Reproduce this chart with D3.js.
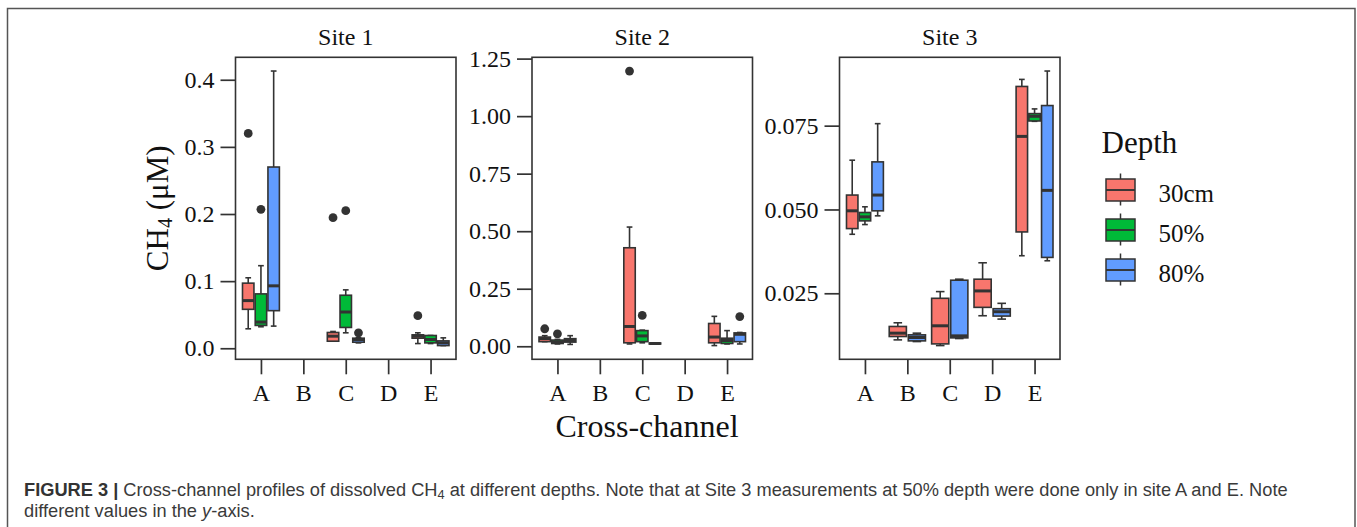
<!DOCTYPE html>
<html>
<head>
<meta charset="utf-8">
<script src="https://cdn.jsdelivr.net/npm/d3@7/dist/d3.min.js"></script>
<style>
  html, body { margin: 0; padding: 0; background: #fff; }
  svg { display: block; }
</style>
</head>
<body>
<svg id="fig" width="1357" height="527"></svg>
<script>
var sites = ['Site 1', 'Site 2', 'Site 3'];
var channels = ['A', 'B', 'C', 'D', 'E'];
var depths = ['30cm', '50%', '80%'];

// channel, depth, lower whisker, q1, median, q3, upper whisker
var site1Boxes = [
  ['A', '30cm', 0.029, 0.058, 0.071, 0.097, 0.105],
  ['A', '50%', 0.032, 0.034, 0.039, 0.081, 0.123],
  ['A', '80%', 0.033, 0.056, 0.093, 0.270, 0.413],
  ['C', '30cm', 0.0105, 0.0105, 0.018, 0.0235, 0.025],
  ['C', '50%', 0.023, 0.031, 0.054, 0.079, 0.087],
  ['C', '80%', 0.008, 0.009, 0.013, 0.015, 0.016],
  ['E', '30cm', 0.007, 0.015, 0.018, 0.020, 0.023],
  ['E', '50%', 0.007, 0.008, 0.013, 0.019, 0.019],
  ['E', '80%', 0.004, 0.004, 0.008, 0.011, 0.0155]
];
var site2Boxes = [
  ['A', '30cm', 0.02, 0.02, 0.033, 0.040, 0.046],
  ['A', '50%', 0.010, 0.012, 0.018, 0.027, 0.030],
  ['A', '80%', 0.008, 0.018, 0.025, 0.033, 0.046],
  ['C', '30cm', 0.010, 0.015, 0.086, 0.428, 0.518],
  ['C', '50%', 0.015, 0.020, 0.045, 0.068, 0.070],
  ['C', '80%', 0.010, 0.010, 0.012, 0.014, 0.015],
  ['E', '30cm', 0.003, 0.015, 0.040, 0.099, 0.130],
  ['E', '50%', 0.010, 0.012, 0.025, 0.035, 0.068],
  ['E', '80%', 0.010, 0.020, 0.052, 0.058, 0.060]
];
var site3Boxes = [
  ['A', '30cm', 0.0426, 0.0443, 0.0496, 0.0543, 0.0647],
  ['A', '50%', 0.0455, 0.0466, 0.0478, 0.0491, 0.0508],
  ['A', '80%', 0.0481, 0.0496, 0.0543, 0.0642, 0.0756],
  ['B', '30cm', 0.0111, 0.0121, 0.0131, 0.0151, 0.0162],
  ['B', '80%', 0.0106, 0.0108, 0.0118, 0.0126, 0.0131],
  ['C', '30cm', 0.0094, 0.0099, 0.0153, 0.0235, 0.0255],
  ['C', '80%', 0.0115, 0.0117, 0.0123, 0.0289, 0.0292],
  ['D', '30cm', 0.0183, 0.0208, 0.0257, 0.0292, 0.0341],
  ['D', '80%', 0.0173, 0.0182, 0.0195, 0.0204, 0.0220],
  ['E', '30cm', 0.0362, 0.0433, 0.0718, 0.0867, 0.0888],
  ['E', '50%', 0.0763, 0.0764, 0.0778, 0.0786, 0.0800],
  ['E', '80%', 0.0347, 0.0357, 0.0557, 0.0810, 0.0913]
];

// channel, depth, value
var site1Outliers = [
  ['A', '30cm', 0.320], ['A', '50%', 0.207],
  ['C', '30cm', 0.1945], ['C', '50%', 0.205], ['C', '80%', 0.023],
  ['E', '30cm', 0.0486]
];
var site2Outliers = [
  ['A', '30cm', 0.076], ['A', '50%', 0.054],
  ['C', '30cm', 1.196], ['C', '50%', 0.134],
  ['E', '80%', 0.129]
];
var site3Outliers = [];

var site1Ticks = [0, 0.1, 0.2, 0.3, 0.4];
var site2Ticks = [0, 0.25, 0.5, 0.75, 1.0, 1.25];
var site3Ticks = [0.025, 0.05, 0.075];

var depthColors = ['#F8766D', '#00BA38', '#619CFF'];

var INK = '#333333';
var SERIF = '"Liberation Serif", "Times New Roman", serif';
var PANEL_TOP = 57.3, PANEL_BOTTOM = 359.3, PANEL_W = 220.5;
var panels = [
  {name: sites[0], left: 235.5, boxes: site1Boxes, outliers: site1Outliers, ticks: site1Ticks, fmt: '.1f'},
  {name: sites[1], left: 532, boxes: site2Boxes, outliers: site2Outliers, ticks: site2Ticks, fmt: '.2f'},
  {name: sites[2], left: 839.5, boxes: site3Boxes, outliers: site3Outliers, ticks: site3Ticks, fmt: '.3f'}
];

var svg = d3.select('#fig');

// figure frame
svg.append('rect')
    .attr('x', 7.5).attr('y', 8.5)
    .attr('width', 1347.5).attr('height', 560)
    .attr('fill', 'none')
    .attr('stroke', '#555')
    .attr('stroke-width', 1.5);

var colorOf = d3.scaleOrdinal().domain(depths).range(depthColors);

function drawPanel(p) {
  var g = svg.append('g');

  var vals = [];
  p.boxes.forEach(function(b) { vals.push(b[2], b[6]); });
  p.outliers.forEach(function(o) { vals.push(o[2]); });
  var lo = d3.min(vals), hi = d3.max(vals), pad = (hi - lo) * 0.05;

  var x = d3.scalePoint().domain(channels)
      .range([p.left, p.left + PANEL_W]).padding(0.6);
  var y = d3.scaleLinear().domain([lo - pad, hi + pad])
      .range([PANEL_BOTTOM, PANEL_TOP]);

  // dodge boxes within each channel (like position_dodge2)
  var step = x.step();
  var placed = [];
  channels.forEach(function(ch) {
    var inCh = p.boxes.filter(function(b) { return b[0] == ch; });
    var slot = step * 0.9 / (inCh.length || 1);
    inCh.forEach(function(b, i) {
      placed.push({
        ch: ch, depth: b[1], lo: b[2], q1: b[3], med: b[4], q3: b[5], hi: b[6],
        cx: x(ch) + (i - (inCh.length - 1) / 2) * slot,
        w: slot * 0.9
      });
    });
  });

  var box = g.selectAll('g.box').data(placed).enter().append('g')
      .attr('class', 'box');

  box.append('line')
      .attr('x1', function(d) { return d.cx; })
      .attr('x2', function(d) { return d.cx; })
      .attr('y1', function(d) { return y(d.lo); })
      .attr('y2', function(d) { return y(d.hi); })
      .attr('stroke', INK).attr('stroke-width', 1.6);

  // whisker caps
  ['lo', 'hi'].forEach(function(k) {
    box.append('line')
        .attr('x1', function(d) { return d.cx - d.w / 4; })
        .attr('x2', function(d) { return d.cx + d.w / 4; })
        .attr('y1', function(d) { return y(d[k]); })
        .attr('y2', function(d) { return y(d[k]); })
        .attr('stroke', INK).attr('stroke-width', 1.6);
  });

  box.append('rect')
      .attr('x', function(d) { return d.cx - d.w / 2; })
      .attr('y', function(d) { return y(d.q3); })
      .attr('width', function(d) { return d.w; })
      .attr('height', function(d) { return Math.max(0.5, y(d.q1) - y(d.q3)); })
      .attr('fill', function(d) { return colorOf(d.depth); })
      .attr('stroke', INK).attr('stroke-width', 1.6);

  box.append('line')
      .attr('x1', function(d) { return d.cx - d.w / 2; })
      .attr('x2', function(d) { return d.cx + d.w / 2; })
      .attr('y1', function(d) { return y(d.med); })
      .attr('y2', function(d) { return y(d.med); })
      .attr('stroke', INK).attr('stroke-width', 3);

  // outliers
  g.selectAll('circle.out').data(p.outliers).enter().append('circle')
      .attr('class', 'out')
      .attr('cx', function(d) {
        var pb = placed.filter(function(b) { return b.ch == d[0] && b.depth == d[1]; })[0];
        return pb.cx;
      })
      .attr('cy', function(d) { return y(d[2]); })
      .attr('r', 4.4)
      .attr('fill', INK);

  // panel border
  g.append('rect')
      .attr('x', p.left).attr('y', PANEL_TOP)
      .attr('width', PANEL_W).attr('height', PANEL_BOTTOM - PANEL_TOP)
      .attr('fill', 'none')
      .attr('stroke', INK).attr('stroke-width', 1.6);

  var yAxis = g.append('g')
      .attr('transform', 'translate(' + p.left + ',0)')
      .call(d3.axisLeft(y).tickValues(p.ticks).tickSize(15).tickPadding(6)
          .tickFormat(d3.format(p.fmt)));
  var xAxis = g.append('g')
      .attr('transform', 'translate(0,' + PANEL_BOTTOM + ')')
      .call(d3.axisBottom(x).tickSize(15).tickPadding(10));

  [yAxis, xAxis].forEach(function(a) {
    a.select('.domain').remove();
    a.selectAll('.tick line').attr('stroke', INK).attr('stroke-width', 1.7);
    a.selectAll('.tick text')
        .attr('fill', '#111')
        .style('font-family', SERIF)
        .style('font-size', '24px');
  });

  g.append('text')
      .attr('x', p.left + PANEL_W / 2)
      .attr('y', 45)
      .attr('text-anchor', 'middle')
      .attr('fill', '#111')
      .style('font-family', SERIF)
      .style('font-size', '24px')
      .text(p.name);
}

panels.forEach(drawPanel);

// axis titles
var yLab = svg.append('text')
    .attr('transform', 'translate(168,' + ((PANEL_TOP + PANEL_BOTTOM) / 2) + ') rotate(-90)')
    .attr('text-anchor', 'middle')
    .attr('fill', '#111')
    .style('font-family', SERIF)
    .style('font-size', '31px');
yLab.append('tspan').text('CH');
yLab.append('tspan').attr('baseline-shift', '-22%').style('font-size', '20px').text('4');
yLab.append('tspan').text(' (\u03bcM)');

svg.append('text')
    .attr('x', 647).attr('y', 437)
    .attr('text-anchor', 'middle')
    .attr('fill', '#111')
    .style('font-family', SERIF)
    .style('font-size', '32px')
    .text('Cross-channel');

// legend
var legend = svg.append('g');
legend.append('text')
    .attr('x', 1101.5).attr('y', 153)
    .attr('fill', '#111')
    .style('font-family', SERIF)
    .style('font-size', '31px')
    .text('Depth');

var key = legend.selectAll('g.key').data(depths).enter().append('g')
    .attr('class', 'key')
    .attr('transform', function(d, i) { return 'translate(1120.5,' + (190 + i * 40) + ')'; });
key.append('line')
    .attr('x1', 0).attr('x2', 0).attr('y1', -16.5).attr('y2', 15.5)
    .attr('stroke', INK).attr('stroke-width', 1.5);
key.append('rect')
    .attr('x', -14.5).attr('y', -11).attr('width', 29).attr('height', 22)
    .attr('fill', function(d) { return colorOf(d); })
    .attr('stroke', INK).attr('stroke-width', 1.5);
key.append('line')
    .attr('x1', -14.5).attr('x2', 14.5).attr('y1', 0).attr('y2', 0)
    .attr('stroke', INK).attr('stroke-width', 1.9);
key.append('text')
    .attr('x', 38).attr('y', 11.5)
    .attr('fill', '#111')
    .style('font-family', SERIF)
    .style('font-size', '25px')
    .text(function(d) { return d; });

// caption
var SANS = '"Liberation Sans", Arial, sans-serif';
var cap1 = svg.append('text')
    .attr('x', 24).attr('y', 496)
    .attr('fill', '#3a3a3a')
    .style('font-family', SANS)
    .style('font-size', '14.3px');
cap1.append('tspan').style('font-weight', 'bold').attr('fill', '#333').text('FIGURE 3 | ');
cap1.append('tspan').text('Cross-channel profiles of dissolved CH');
cap1.append('tspan').attr('baseline-shift', '-20%').style('font-size', '0.7em').text('4');
cap1.append('tspan').text(' at different depths. Note that at Site 3 measurements at 50% depth were done only in site A and E. Note');

var cap2 = svg.append('text')
    .attr('x', 24).attr('y', 517)
    .attr('fill', '#3a3a3a')
    .style('font-family', SANS)
    .style('font-size', '14.3px');
cap2.append('tspan').text('different values in the ');
cap2.append('tspan').style('font-style', 'italic').text('y');
cap2.append('tspan').text('-axis.');

// size the caption so the first line spans the reference width
var w1 = cap1.node().getComputedTextLength();
var capSize = (14.3 * 1264 / w1) + 'px';
cap1.style('font-size', capSize);
cap2.style('font-size', capSize);
</script>
</body>
</html>
